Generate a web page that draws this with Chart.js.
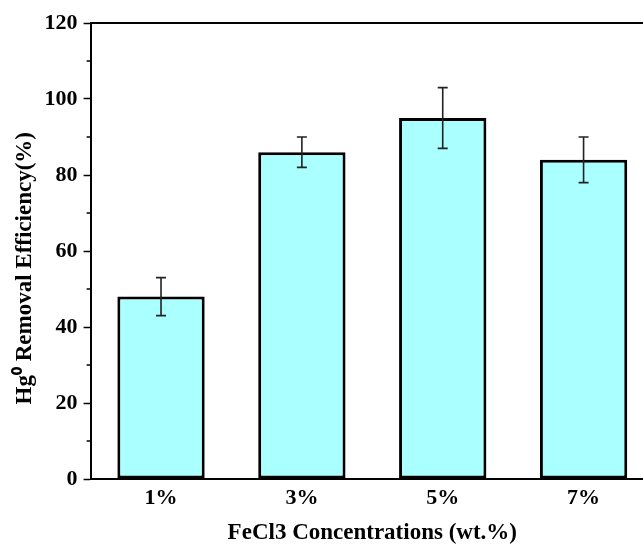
<!DOCTYPE html>
<html>
<head>
<meta charset="utf-8">
<script src="https://cdn.jsdelivr.net/npm/chart.js@4.4.1/dist/chart.umd.min.js"></script>
<style>
  html, body { margin: 0; padding: 0; background: #fff; overflow: hidden; }
  #wrap { width: 662px; height: 547px; position: relative; }
</style>
</head>
<body>
<div id="wrap"><canvas id="chart"></canvas></div>
<script>
const categories = ['1%', '3%', '5%', '7%'];
const efficiency = [48, 86, 95, 84];
const errLow = [43, 82, 87, 78];
const errHigh = [53, 90, 103, 90];
const yTicks = [0, 20, 40, 60, 80, 100, 120];
const yMinor = [10, 30, 50, 70, 90, 110];

const fontFamily = '"Liberation Serif", "Times New Roman", serif';

// error bars, minor ticks and the top/right frame
const extras = {
    id: 'extras',
    afterDatasetsDraw(chart) {
        const ctx = chart.ctx;
        const x = chart.scales.x;
        const y = chart.scales.y;
        const area = chart.chartArea;
        ctx.save();
        ctx.strokeStyle = '#222';
        ctx.lineWidth = 1.6;
        categories.forEach((c, i) => {
            const px = x.getPixelForValue(i);
            const top = y.getPixelForValue(errHigh[i]);
            const bot = y.getPixelForValue(errLow[i]);
            ctx.beginPath();
            ctx.moveTo(px, top); ctx.lineTo(px, bot);
            ctx.moveTo(px - 5, top); ctx.lineTo(px + 5, top);
            ctx.moveTo(px - 5, bot); ctx.lineTo(px + 5, bot);
            ctx.stroke();
        });
        ctx.strokeStyle = '#000';
        ctx.lineWidth = 1.5;
        yMinor.forEach(v => {
            const py = y.getPixelForValue(v);
            ctx.beginPath();
            ctx.moveTo(area.left - 4, py); ctx.lineTo(area.left, py);
            ctx.stroke();
        });
        ctx.lineWidth = 2;
        ctx.beginPath();
        ctx.moveTo(area.left, area.top);
        ctx.lineTo(area.right, area.top);
        ctx.lineTo(area.right, area.bottom);
        ctx.stroke();
        ctx.restore();
    }
};

new Chart(document.getElementById('chart'), {
    type: 'bar',
    data: {
        labels: categories,
        datasets: [{
            data: efficiency,
            backgroundColor: '#aaffff',
            borderColor: '#000',
            borderWidth: 3,
            borderSkipped: false,
            barPercentage: 0.62,
            categoryPercentage: 1.0
        }]
    },
    options: {
        responsive: true,
        maintainAspectRatio: false,
        animation: false,
        layout: { padding: { top: 23, right: 8, left: 11, bottom: 0 } },
        plugins: { legend: { display: false }, tooltip: { enabled: false } },
        scales: {
            x: {
                grid: { display: false, drawTicks: false },
                border: { display: true, color: '#000', width: 2 },
                ticks: {
                    color: '#000',
                    padding: 6,
                    font: { family: fontFamily, size: 22, weight: 'bold' }
                },
                title: {
                    display: true,
                    text: 'FeCl3 Concentrations (wt.%)',
                    color: '#000',
                    padding: { top: 2, bottom: 0 },
                    font: { family: fontFamily, size: 23, weight: 'bold' }
                }
            },
            y: {
                min: 0,
                max: 120,
                afterBuildTicks(scale) {
                    scale.ticks = yTicks.map(v => ({ value: v }));
                },
                grid: { drawOnChartArea: false, tickLength: 7, tickWidth: 1.5, tickColor: '#000' },
                border: { display: true, color: '#000', width: 2 },
                ticks: {
                    color: '#000',
                    padding: 6,
                    font: { family: fontFamily, size: 22, weight: 'bold' }
                },
                title: {
                    display: true,
                    text: 'Hg\u2070 Removal Efficiency(%)\u2002\u2002\u2002',
                    color: '#000',
                    padding: { top: 0, bottom: 0 },
                    font: { family: fontFamily, size: 23, weight: 'bold' }
                }
            }
        }
    },
    plugins: [extras]
});
</script>
</body>
</html>
